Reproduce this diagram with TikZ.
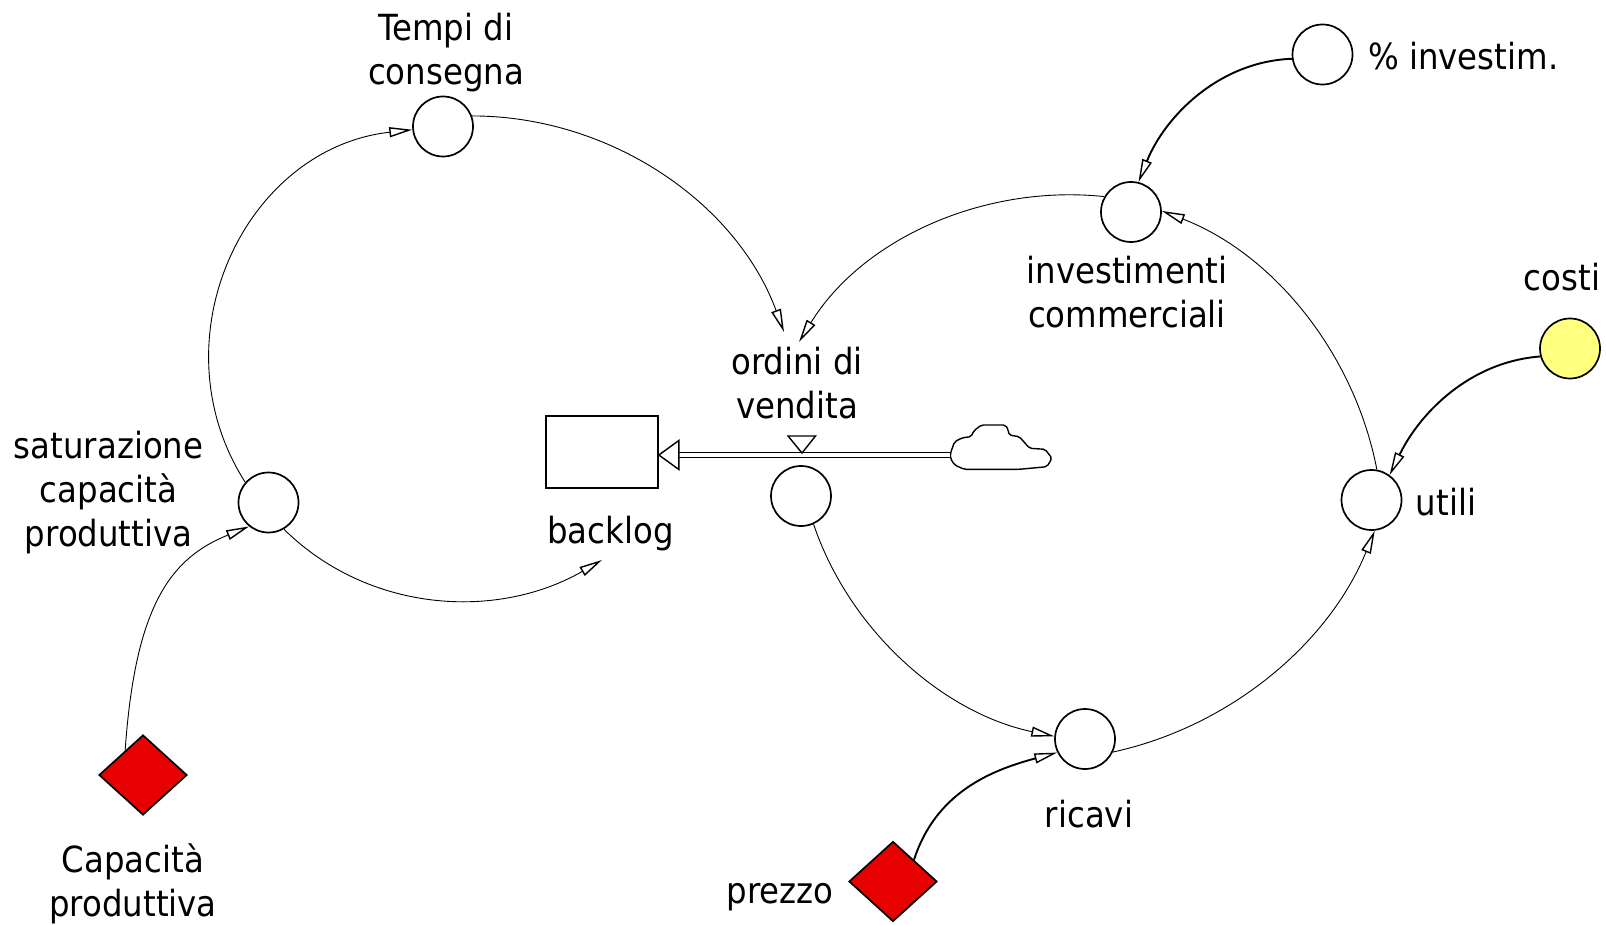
\documentclass[tikz,border=0pt]{standalone}
\usepackage{fontspec}
\setmainfont{DejaVu Sans Condensed}
\usetikzlibrary{arrows.meta,shapes.geometric}
\definecolor{constred}{RGB}{230,0,0}
\definecolor{costyellow}{RGB}{255,255,128}
\begin{document}
\begin{tikzpicture}[x=1pt,y=1pt,
  var/.style={circle,draw,line width=1.7pt,minimum size=60pt,inner sep=0pt},
  const/.style={diamond,draw,line width=1.7pt,fill=constred,minimum width=88pt,minimum height=80pt,inner sep=0pt},
  lbl/.style={font=\fontsize{36}{44}\selectfont,align=center,inner sep=0pt},
  link/.style={line width=0.9pt,-{Triangle[length=23pt,width=10pt,fill=white,line width=1.4pt]}},
  boldlink/.style={link,line width=1.9pt},
  pipe/.style={line width=1.1pt,double distance=3.9pt},
  valvemark/.style={line width=1.4pt,fill=white}
]
\useasboundingbox (0,0) rectangle (1606,-925);

% variables
\node[var] (tempi) at (443,-126.5) {};
\node[var] (pct) at (1322.5,-54.5) {};
\node[var] (inv) at (1131,-212) {};
\node[var,fill=costyellow] (costi) at (1570,-348.5) {};
\node[var] (utili) at (1371.5,-500) {};
\node[var] (ric) at (1085,-739) {};
\node[var] (valve) at (801,-496) {};
\node[var] (sat) at (268.5,-502.5) {};
\node[const] (prez) at (893,-881.5) {};
\node[const] (cap) at (143,-775) {};
\node[draw,line width=1.7pt,minimum width=112pt,minimum height=72pt,inner sep=0pt] (backlog) at (602,-452) {};

% labels
\node[lbl] (tempiL) at (446,-53) {Tempi di\\consegna};
\node[lbl,anchor=west] (pctL) at (1368,-56) {\% investim.};
\node[lbl] (invL) at (1127,-292) {investimenti\\commerciali};
\node[lbl] (costiL) at (1562,-277) {costi};
\node[lbl] (utiliL) at (1446,-502) {utili};
\node[lbl] (ricL) at (1089,-814) {ricavi};
\node[lbl] (prezL) at (780,-897) {prezzo};
\node[lbl] (ordL) at (797,-383) {ordini di\\vendita};
\node[lbl] (backL) at (610.5,-534) {backlog};
\node[lbl] (satL) at (108.6,-493) {saturazione\\capacità\\produttiva};
\node[lbl] (capL) at (133,-884) {Capacità\\produttiva};

% free ends of links
\coordinate (ordA) at (784,-332);
\coordinate (ordB) at (799,-342);
\coordinate (backA) at (602,-560);

% cloud (source of the flow)
\draw[line width=1.4pt,fill=white,rounded corners=2pt]
  (950.4,-453.3) -- (954.6,-441.7) -- (962.5,-437.7) -- (971.1,-436.7) -- (973.9,-430.7)
  -- (981.4,-425) -- (1005.5,-425) -- (1008.3,-430) -- (1009,-435) -- (1019.3,-436.7)
  -- (1029.6,-448.3) -- (1045.1,-449.3) -- (1052,-458.3) -- (1046.9,-466.7) -- (1019.3,-469.3)
  -- (964.2,-469.3) -- (954.6,-465) -- (950.4,-458.3) -- cycle;
\coordinate (cloudL) at (950.4,-455);

% flow pipe into the stock
\coordinate (pipeEnd) at ([xshift=20pt,yshift=-3pt]backlog.east);
\draw[pipe] (cloudL) -- (pipeEnd);
\draw[valvemark] ([yshift=-3pt]backlog.east) -- ++(20,14.5) -- ++(0,-29) -- cycle;
\draw[valvemark] (788,-436) -- (815.5,-436) -- (802,-453) -- cycle;

% causal links
\draw[link] (sat.139) to[out=122.6,in=186.3,distance=169pt] (tempi.186);
\draw[link] (tempi.20) to[out=0,in=110.2,distance=138pt] (ordA);
\draw[link] (inv.150) to[out=174,in=58.4,distance=121pt] (ordB);
\draw[link] (utili.80) to[out=100.9,in=338.9,distance=119pt] (inv.2);
\draw[boldlink] (pct.188) to[out=182,in=68,distance=72pt] (inv.76);
\draw[boldlink] (costi.195) to[out=184.3,in=64,distance=70pt] (utili.54);
\draw[link] (valve.294) to[out=288.7,in=168.2,distance=113pt] (ric.175);
\draw[link] (ric.335) to[out=12.3,in=247.8,distance=121pt] (utili.276);
\draw[boldlink] (prez.46) to[out=72,in=195,distance=70pt] (ric.206);
\draw[link] (cap.126) to[out=86,in=202,out distance=145pt,in distance=85pt] (sat.231);
\draw[link] (sat.300) to[out=315.4,in=210,distance=120pt] (backA);
\end{tikzpicture}
\end{document}
